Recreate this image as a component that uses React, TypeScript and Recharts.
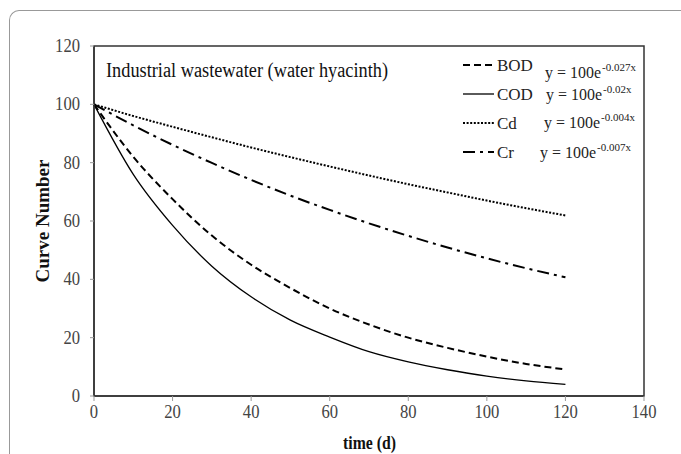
import React from 'react';
import { LineChart, Line, XAxis, YAxis, ReferenceArea } from 'recharts';

const times = [0, 10, 20, 30, 40, 50, 60, 70, 80, 90, 100, 110, 120];
const bod = [100, 82, 67.5, 55, 45, 37, 30, 24.5, 20, 16.5, 13.5, 11, 9.1];
const cod = [100, 76, 58.5, 44.5, 34, 26, 20.2, 15.2, 11.7, 9, 6.8, 5.2, 4];
const cd = [100, 96, 92.3, 88.7, 85.2, 81.9, 78.7, 75.6, 72.6, 69.8, 67, 64.4, 61.9];
const cr = [100, 92.8, 86.1, 79.9, 74.1, 68.7, 63.8, 59.2, 54.9, 50.9, 47.2, 43.8, 40.7];

const seriesNames = ['BOD', 'COD', 'Cd', 'Cr'];
const exponents = ['-0.027x', '-0.02x', '-0.004x', '-0.007x'];

const xTicks = [0, 20, 40, 60, 80, 100, 120, 140];
const yTicks = [0, 20, 40, 60, 80, 100, 120];

const title = 'Industrial wastewater (water hyacinth)';

const data = times.map((t, i) => ({
  t,
  BOD: bod[i],
  COD: cod[i],
  Cd: cd[i],
  Cr: cr[i],
}));

const serif = 'Liberation Serif, Times New Roman, serif';

const lineStyle: Record<string, { dash?: string; width: number }> = {
  BOD: { dash: '7 4', width: 2 },
  COD: { width: 1.3 },
  Cd: { dash: '2 1.6', width: 2 },
  Cr: { dash: '12 5 3 5', width: 2 },
};

// legend layout
const labelY = [71, 100, 129, 158];
const eqX = [545, 546, 544, 540];
const eqY = [78, 100, 128, 158];

const YTick = (props: any) => {
  const s = String(props.payload.value);
  return (
    <text x={props.x} y={props.y} dy={6} textAnchor="end" fontFamily={serif}
      fontSize={19} fill="#444" textLength={s.length * 8.3} lengthAdjust="spacingAndGlyphs">
      {s}
    </text>
  );
};

const XTick = (props: any) => {
  const s = String(props.payload.value);
  const w = s.length * 8.3;
  return (
    <text x={props.x - w / 2} y={props.y} dy={15} fontFamily={serif}
      fontSize={19} fill="#444" textLength={w} lengthAdjust="spacingAndGlyphs">
      {s}
    </text>
  );
};

function Overlay() {
  return (
    <svg width={681} height={454} style={{ position: 'absolute', left: 0, top: 0, pointerEvents: 'none' }}>
      <text x={106} y={77} fontFamily={serif} fontSize={20} fill="#111"
        textLength={282} lengthAdjust="spacingAndGlyphs">{title}</text>
      {seriesNames.map((name, i) => {
        const st = lineStyle[name];
        return (
          <g key={name}>
            <line x1={463} x2={494} y1={labelY[i] - 6} y2={labelY[i] - 6}
              stroke="#000" strokeWidth={st.width} strokeDasharray={st.dash} />
            <text x={497} y={labelY[i]} fontFamily={serif} fontSize={17} fill="#222">{name}</text>
            <text x={eqX[i]} y={eqY[i]} fontFamily={serif} fontSize={17} fill="#222"
              textLength={56} lengthAdjust="spacingAndGlyphs">y = 100e</text>
            <text x={eqX[i] + 57} y={eqY[i] - 7} fontFamily={serif} fontSize={11} fill="#222">
              {exponents[i]}
            </text>
          </g>
        );
      })}
      <text x={0} y={0} transform="translate(49 221) rotate(-90)" textAnchor="middle"
        fontFamily={serif} fontWeight="bold" fontSize={19} fill="#111">Curve Number</text>
      <text x={343} y={449} fontFamily={serif} fontWeight="bold" fontSize={19} fill="#111"
        textLength={53} lengthAdjust="spacingAndGlyphs">time (d)</text>
    </svg>
  );
}

export default function App() {
  return (
    <div style={{ position: 'absolute', left: 0, top: 0, width: 681, height: 454, overflow: 'hidden', background: '#fff' }}>
      <div style={{
        position: 'absolute', left: 9, top: 10, width: 700, height: 470,
        borderTop: '1px solid #999', borderLeft: '1px solid #999', borderTopLeftRadius: 10,
      }} />
      <div style={{ position: 'absolute', left: 0, top: 0 }}>
        <LineChart width={681} height={454} data={data}
          margin={{ top: 46, right: 37, left: 34, bottom: 28 }}>
          <XAxis dataKey="t" type="number" domain={[0, 140]} ticks={xTicks}
            axisLine={{ stroke: '#333', strokeWidth: 1.5 }} tickLine={{ stroke: '#999' }}
            tickSize={5} height={30} tick={<XTick />} interval={0} />
          <YAxis type="number" domain={[0, 120]} ticks={yTicks} width={60}
            axisLine={{ stroke: '#333', strokeWidth: 1.5 }} tickLine={{ stroke: '#999' }}
            tickSize={4} tickMargin={10} tick={<YTick />} interval={0} />
          <ReferenceArea x1={0} x2={140} y1={0} y2={120} fill="none"
            stroke="#333" strokeWidth={1.5} />
          {seriesNames.map((name) => (
            <Line key={name} type="monotone" dataKey={name} stroke="#000"
              strokeWidth={lineStyle[name].width} strokeDasharray={lineStyle[name].dash}
              dot={false} isAnimationActive={false} />
          ))}
        </LineChart>
      </div>
      <Overlay />
    </div>
  );
}
